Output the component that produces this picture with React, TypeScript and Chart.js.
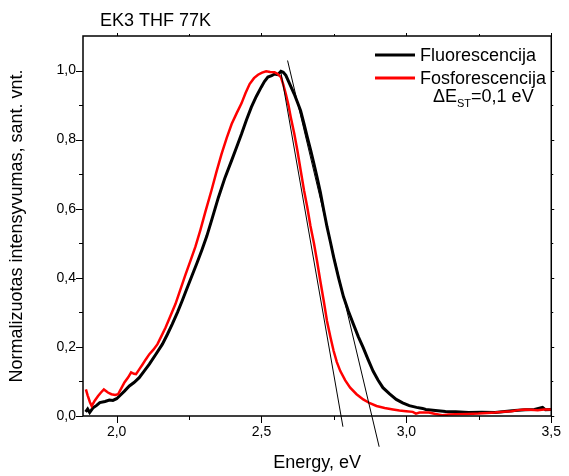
import React, { useEffect, useRef } from "react";
import { Chart, registerables } from "chart.js";

Chart.register(...registerables);

// ---- Data ----
const fluorEnergy = [
  1.893, 1.9, 1.907, 1.919, 1.93, 1.942, 1.96, 1.975, 1.987, 2.0, 2.01, 2.027, 2.044, 2.06, 2.078, 2.095,
  2.113, 2.135, 2.158, 2.175, 2.192, 2.21, 2.226, 2.243, 2.26, 2.277, 2.294, 2.311, 2.328, 2.351, 2.374,
  2.397, 2.414, 2.431, 2.448, 2.465, 2.482, 2.499, 2.51, 2.522, 2.535, 2.545, 2.556, 2.567, 2.575, 2.584,
  2.598, 2.613, 2.624, 2.635, 2.647, 2.658, 2.67, 2.681, 2.692, 2.703, 2.715, 2.726, 2.738, 2.749, 2.766,
  2.783, 2.8, 2.817, 2.834, 2.851, 2.868, 2.885, 2.902, 2.919, 2.942, 2.965, 2.987, 3.01, 3.035, 3.056,
  3.067, 3.1, 3.135, 3.17, 3.215, 3.26, 3.306, 3.34, 3.374, 3.41, 3.442, 3.47, 3.48, 3.499,
];
const fluorValue = [
  0.012, 0.02, 0.01, 0.024, 0.03, 0.039, 0.042, 0.046, 0.045, 0.05, 0.058, 0.072, 0.087, 0.097, 0.111, 0.13,
  0.15, 0.178, 0.208, 0.236, 0.266, 0.3, 0.333, 0.37, 0.406, 0.442, 0.48, 0.52, 0.567, 0.632, 0.69,
  0.74, 0.778, 0.816, 0.857, 0.894, 0.925, 0.952, 0.968, 0.981, 0.985, 0.99, 0.988, 0.998, 0.995, 0.986,
  0.96, 0.932, 0.908, 0.884, 0.845, 0.807, 0.768, 0.73, 0.69, 0.648, 0.595, 0.548, 0.503, 0.46, 0.4,
  0.345, 0.303, 0.266, 0.23, 0.198, 0.163, 0.13, 0.104, 0.082, 0.064, 0.048, 0.038, 0.03, 0.025, 0.022,
  0.019, 0.016, 0.013, 0.012, 0.01, 0.011, 0.01, 0.013, 0.016, 0.018, 0.019, 0.025, 0.018, 0.019,
];

const phosEnergy = [
  1.894, 1.9, 1.908, 1.914, 1.925, 1.936, 1.946, 1.956, 1.97, 1.982, 1.995, 2.005, 2.016, 2.027, 2.04, 2.05,
  2.06, 2.067, 2.078, 2.09, 2.1, 2.113, 2.127, 2.141, 2.155, 2.169, 2.186, 2.203, 2.22, 2.238, 2.255,
  2.272, 2.289, 2.306, 2.328, 2.345, 2.362, 2.38, 2.397, 2.414, 2.431, 2.445, 2.459, 2.474, 2.488, 2.502,
  2.516, 2.53, 2.545, 2.556, 2.567, 2.575, 2.584, 2.593, 2.601, 2.613, 2.624, 2.635, 2.647, 2.658, 2.669,
  2.681, 2.692, 2.703, 2.715, 2.726, 2.738, 2.749, 2.76, 2.772, 2.789, 2.806, 2.828, 2.851, 2.874, 2.897,
  2.925, 2.954, 2.976, 2.999, 3.022, 3.033, 3.045, 3.078, 3.1, 3.124, 3.145, 3.169, 3.21, 3.249, 3.28,
  3.306, 3.335, 3.363, 3.385, 3.408, 3.43, 3.453, 3.475, 3.499,
];
const phosValue = [
  0.077, 0.06, 0.04, 0.029, 0.045, 0.058, 0.068, 0.077, 0.068, 0.063, 0.061, 0.063, 0.08, 0.097, 0.112, 0.126,
  0.122, 0.121, 0.135, 0.15, 0.163, 0.179, 0.192, 0.208, 0.232, 0.256, 0.29, 0.324, 0.366, 0.41, 0.45,
  0.49, 0.538, 0.59, 0.655, 0.708, 0.758, 0.805, 0.845, 0.876, 0.905, 0.935, 0.961, 0.978, 0.988, 0.994,
  0.998, 0.996, 0.995, 0.99, 0.981, 0.96, 0.932, 0.9, 0.865, 0.818, 0.768, 0.712, 0.652, 0.604, 0.55,
  0.5, 0.447, 0.391, 0.332, 0.275, 0.228, 0.188, 0.156, 0.13, 0.103, 0.082, 0.063, 0.048, 0.037, 0.029,
  0.023, 0.019, 0.016, 0.014, 0.012, 0.007, 0.01, 0.01, 0.006, 0.002, 0.004, 0.005, 0.006, 0.007, 0.009,
  0.01, 0.012, 0.014, 0.017, 0.019, 0.018, 0.017, 0.019, 0.019,
];

// tangent (onset) lines
const tangentFluorEnergy = [2.59, 2.906];
const tangentFluorValue = [1.029, -0.089];
const tangentPhosEnergy = [2.567, 2.781];
const tangentPhosValue = [0.995, -0.031];

const xMin = 1.884;
const xMax = 3.5;
const yMin = 0;
const yMax = 1.1;
const xMajorStep = 0.5;
const yMajorStep = 0.2;
const xMinorTicks = [2.25, 2.75, 3.25];
const yMinorTicks = [0.1, 0.3, 0.5, 0.7, 0.9];
const xMajorTicks = [2.0, 2.5, 3.0, 3.5];
const yMajorTicks = [0, 0.2, 0.4, 0.6, 0.8, 1.0];

const titleText = "EK3 THF 77K";
const xTitle = "Energy, eV";
const yTitle = "Normalizuotas intensyvumas, sant. vnt.";
const legendLabels = ["Fluorescencija", "Fosforescencija"];
const legendColors = ["#000000", "#ff0000"];

const FONT = "'Liberation Sans', Arial, Helvetica, sans-serif";

const toPoints = (xs: number[], ys: number[]) => xs.map((x, i) => ({ x, y: ys[i] }));
const fmt = (v: number) => v.toFixed(1).replace(".", ",");

const framePlugin = {
  id: "frameAndText",
  afterDraw(chart: any) {
    const { ctx, chartArea } = chart;
    const { left, right, top, bottom } = chartArea;
    const xs = chart.scales.x;
    const ys = chart.scales.y;
    ctx.save();
    ctx.strokeStyle = "#000";
    ctx.lineWidth = 1.5;
    ctx.strokeRect(left, top, right - left, bottom - top);
    ctx.lineWidth = 1;
    ctx.beginPath();
    const tick = (x1: number, y1: number, x2: number, y2: number) => {
      ctx.moveTo(x1, y1);
      ctx.lineTo(x2, y2);
    };
    xMajorTicks.forEach((v) => {
      const p = Math.round(xs.getPixelForValue(v)) + 0.5;
      tick(p, bottom, p, bottom + 7);
      tick(p, top, p, top - 3);
    });
    xMinorTicks.forEach((v) => {
      const p = Math.round(xs.getPixelForValue(v)) + 0.5;
      tick(p, bottom, p, bottom + 4);
      tick(p, top, p, top - 2);
    });
    yMajorTicks.forEach((v) => {
      const p = Math.round(ys.getPixelForValue(v)) + 0.5;
      tick(left, p, left - 7, p);
      tick(right, p, right + 3, p);
    });
    yMinorTicks.forEach((v) => {
      const p = Math.round(ys.getPixelForValue(v)) + 0.5;
      tick(left, p, left - 4, p);
      tick(right, p, right + 2, p);
    });
    ctx.stroke();

    // title
    ctx.fillStyle = "#000";
    ctx.font = `18px ${FONT}`;
    ctx.textAlign = "left";
    ctx.textBaseline = "alphabetic";
    ctx.fillText(titleText, 100, 26);

    // legend
    const lx0 = 375;
    const lx1 = 415;
    const rows = [55, 78];
    legendLabels.forEach((lab, i) => {
      ctx.strokeStyle = legendColors[i];
      ctx.lineWidth = 3;
      ctx.beginPath();
      ctx.moveTo(lx0, rows[i]);
      ctx.lineTo(lx1, rows[i]);
      ctx.stroke();
      ctx.fillStyle = "#000";
      ctx.font = `18px ${FONT}`;
      ctx.textBaseline = "middle";
      ctx.fillText(lab, 420, rows[i] + 1);
    });
    // Delta E_ST line
    ctx.textBaseline = "alphabetic";
    let x = 433;
    const base = 102;
    ctx.font = `18px ${FONT}`;
    ctx.fillText("\u0394E", x, base);
    x += ctx.measureText("\u0394E").width;
    ctx.font = `11px ${FONT}`;
    ctx.fillText("ST", x, base + 5);
    x += ctx.measureText("ST").width;
    ctx.font = `18px ${FONT}`;
    ctx.fillText("=0,1 eV", x, base);
    ctx.restore();
  },
};

export default function App() {
  const ref = useRef<HTMLCanvasElement | null>(null);
  useEffect(() => {
    document.body.style.margin = "0";
    const canvas = ref.current;
    if (!canvas) return;
    Chart.defaults.font.family = FONT;
    Chart.defaults.color = "#000";
    const chart = new Chart(canvas, {
      type: "line",
      data: {
        datasets: [
          {
            label: "tangentPhos",
            data: toPoints(tangentPhosEnergy, tangentPhosValue),
            borderColor: "#000",
            borderWidth: 1,
            pointRadius: 0,
            clip: false as any,
            order: 0,
          },
          {
            label: "tangentFluor",
            data: toPoints(tangentFluorEnergy, tangentFluorValue),
            borderColor: "#000",
            borderWidth: 1,
            pointRadius: 0,
            clip: false as any,
            order: 0,
          },
          {
            label: legendLabels[1],
            data: toPoints(phosEnergy, phosValue),
            borderColor: legendColors[1],
            borderWidth: 2.5,
            pointRadius: 0,
            tension: 0,
            order: 1,
          },
          {
            label: legendLabels[0],
            data: toPoints(fluorEnergy, fluorValue),
            borderColor: legendColors[0],
            borderWidth: 3,
            pointRadius: 0,
            tension: 0,
            order: 2,
          },
        ],
      },
      options: {
        animation: false,
        responsive: false,
        devicePixelRatio: 1,
        layout: { padding: { top: 36, right: 12, left: 0, bottom: 0 } },
        plugins: { legend: { display: false }, tooltip: { enabled: false }, title: { display: false } },
        scales: {
          x: {
            type: "linear",
            min: xMin,
            max: xMax,
            grid: { display: false, drawTicks: false },
            border: { display: false },
            ticks: {
              stepSize: xMajorStep,
              includeBounds: false,
              padding: 8,
              font: { size: 14 },
              color: "#000",
              maxRotation: 0,
              callback: (v: any) => fmt(Number(v)),
            },
            title: { display: true, text: xTitle, font: { size: 18 }, color: "#000", padding: { top: 0, bottom: 2 } },
            afterFit: (s: any) => {
              s.height = 60;
            },
          },
          y: {
            type: "linear",
            min: yMin,
            max: yMax,
            grid: { display: false, drawTicks: false },
            border: { display: false },
            ticks: {
              stepSize: yMajorStep,
              includeBounds: false,
              padding: 7,
              font: { size: 14 },
              color: "#000",
              callback: (v: any) => fmt(Number(v)),
            },
            title: { display: true, text: yTitle, font: { size: 18 }, color: "#000", padding: { top: 6, bottom: 0 } },
            afterFit: (s: any) => {
              s.width = 83;
            },
          },
        },
      } as any,
      plugins: [framePlugin],
    });
    return () => chart.destroy();
  }, []);
  return <canvas ref={ref} width={569} height={476} style={{ display: "block", width: 569, height: 476 }} />;
}
